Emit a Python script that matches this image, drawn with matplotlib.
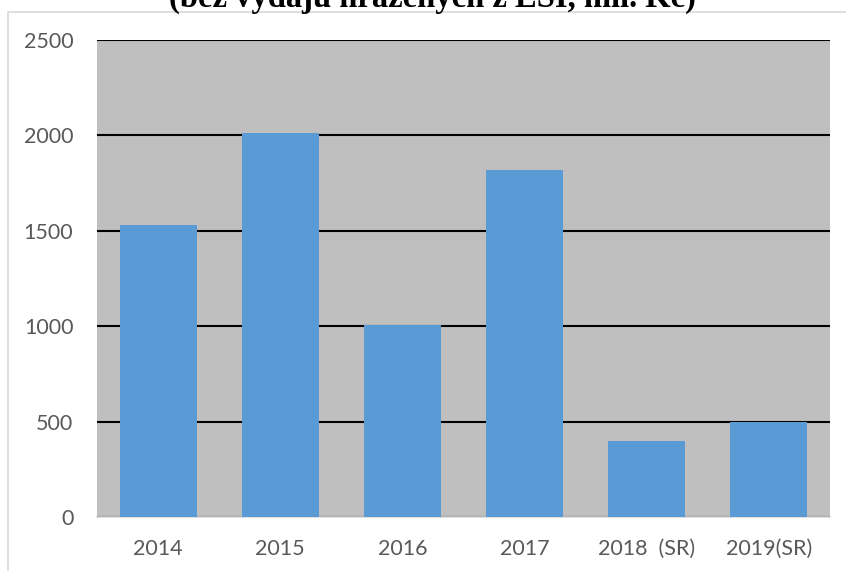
""" Výdaje bez ESI
"""

import matplotlib.pyplot as plt
from matplotlib.patches import Rectangle

# Data
years = ['2014', '2015', '2016', '2017', '2018  (SR)', '2019(SR)']
values = [1530, 2010, 1005, 1820, 398, 500]
title = '(bez výdajů hrazených z ESI, mil. Kč)'


def main():
    fig = plt.figure(figsize=(8.46, 5.71), dpi=100)
    ax = fig.add_axes([97 / 846, 1 - 517 / 571, 733 / 846, 477 / 571])

    # outer chart frame
    fig.patches.append(Rectangle((8 / 846, -0.1), 1.0, 1 - 11.5 / 571 + 0.1,
                                 transform=fig.transFigure, fill=False,
                                 edgecolor='#D9D9D9', linewidth=1.2))

    fig.text(432 / 846, 1 - 7 / 571, title, ha='center', va='baseline',
             fontsize=23.5, fontweight='bold', family='Liberation Serif')

    ax.set_facecolor('#BFBFBF')
    ax.bar(range(len(years)), values, width=0.63, color='#5B9BD5', zorder=3)

    ax.set_xlim(-0.5, len(years) - 0.5)
    ax.set_ylim(0, 2500)
    ax.set_yticks(range(0, 2501, 500))
    ax.set_xticks(range(len(years)))
    ax.set_xticklabels(years)
    ax.yaxis.grid(True, color='black', linewidth=1.5, zorder=1)
    ax.set_axisbelow(True)

    for side in ['top', 'right', 'left']:
        ax.spines[side].set_visible(False)
    ax.spines['bottom'].set_color('#D9D9D9')
    ax.spines['bottom'].set_linewidth(1.2)

    ax.tick_params(length=0, labelsize=15.5, labelcolor='#595959')
    ax.tick_params(axis='y', pad=17)
    ax.tick_params(axis='x', pad=16)
    for lbl in ax.get_xticklabels() + ax.get_yticklabels():
        lbl.set_family('Lato')

    plt.savefig('out.png', dpi=100)


if __name__ == '__main__':
    main()
